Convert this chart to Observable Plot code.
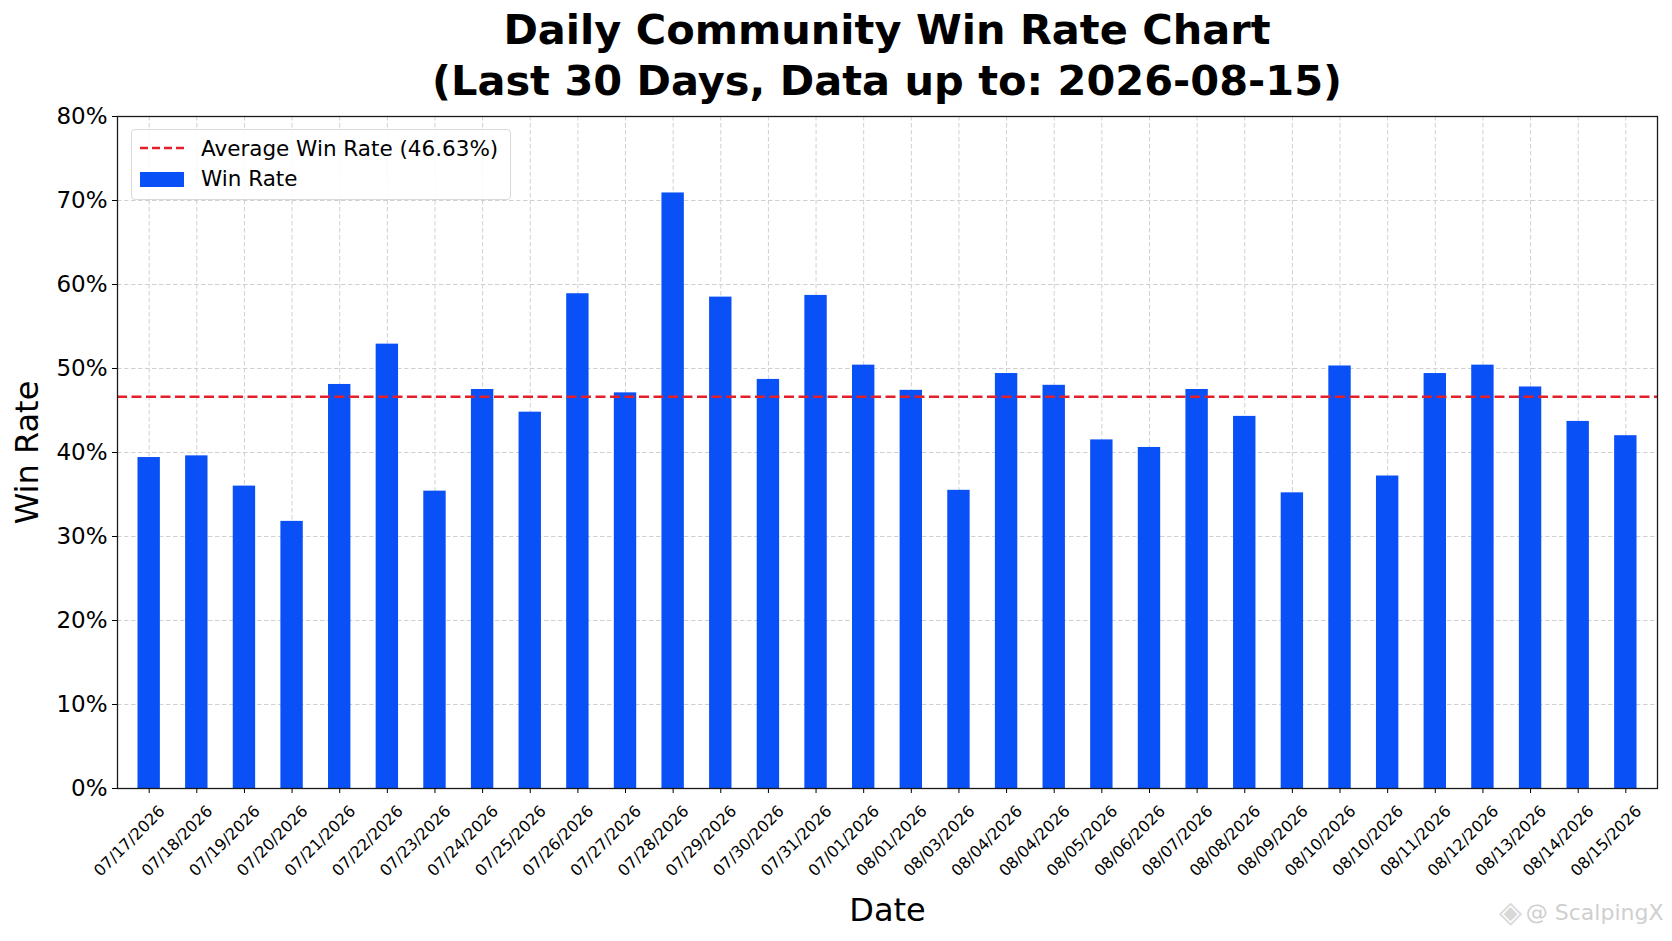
<!DOCTYPE html>
<html>
<head>
<meta charset="utf-8">
<script src="https://cdn.jsdelivr.net/npm/d3@7"></script>
<script src="https://cdn.jsdelivr.net/npm/@observablehq/plot@0.6"></script>
<style>
  html, body { margin: 0; padding: 0; background: #fff; }
  #wrap { position: relative; width: 1672px; height: 941px; overflow: hidden; font-family: "DejaVu Sans", sans-serif; }
  #title { position: absolute; left: 117px; width: 1540px; top: 4px; text-align: center;
           font-weight: bold; font-size: 41.5px; line-height: 51px; color: #000; }
  #legend { position: absolute; left: 131px; top: 129px; width: 378px; height: 69px;
            border: 1px solid #d9d9d9; border-radius: 4px; background: rgba(255,255,255,0.85);
            font-size: 21.5px; color: #000; }
  .sw { position: absolute; left: 8px; width: 44px; }
  .lbl { position: absolute; left: 69px; white-space: nowrap; }
</style>
</head>
<body>
<div id="wrap">
  <div id="chart"></div>
  <div id="title">Daily Community Win Rate Chart<br>(Last 30 Days, Data up to: 2026-08-15)</div>
  <div id="legend">
    <svg class="sw" style="top:14px" width="44" height="8"><line x1="0" y1="4" x2="44" y2="4" stroke="#e3202a" stroke-width="2.5" stroke-dasharray="8,4"/></svg>
    <div class="lbl" style="top:6px">Average Win Rate (46.63%)</div>
    <div class="sw" style="top:42px;height:15px;background:#0a50f7"></div>
    <div class="lbl" style="top:36px">Win Rate</div>
  </div>
</div>
<script>
const dates = [
  "07/17/2026","07/18/2026","07/19/2026","07/20/2026","07/21/2026","07/22/2026","07/23/2026","07/24/2026",
  "07/25/2026","07/26/2026","07/27/2026","07/28/2026","07/29/2026","07/30/2026","07/31/2026","07/01/2026",
  "08/01/2026","08/03/2026","08/04/2026","08/04/2026","08/05/2026","08/06/2026","08/07/2026","08/08/2026",
  "08/09/2026","08/10/2026","08/10/2026","08/11/2026","08/12/2026","08/13/2026","08/14/2026","08/15/2026"
];
const winRates = [
  39.4, 39.6, 36.0, 31.8, 48.1, 52.9, 35.4, 47.5,
  44.8, 58.9, 47.1, 70.9, 58.5, 48.7, 58.7, 50.4,
  47.4, 35.5, 49.4, 48.0, 41.5, 40.6, 47.5, 44.3,
  35.2, 50.3, 37.2, 49.4, 50.4, 47.8, 43.7, 42.0
];
const avgWinRate = [46.63];
const yTicks = [0, 10, 20, 30, 40, 50, 60, 70, 80];
const barHalfWidth = 0.235; // in category units

const idx = dates.map((d, i) => i);
const rows = idx.map(i => ({i, date: dates[i], rate: winRates[i]}));

const chart = Plot.plot({
  width: 1672,
  height: 941,
  marginLeft: 117,
  marginRight: 15,
  marginTop: 116,
  marginBottom: 153,
  style: {fontFamily: "DejaVu Sans, sans-serif", background: "transparent", color: "#000"},
  x: {type: "linear", domain: [-0.665, dates.length - 1 + 0.665]},
  y: {domain: [0, 80]},
  marks: [
    Plot.ruleY(yTicks, {stroke: "#d0d0d0", strokeWidth: 1, strokeDasharray: "4.5,2.5"}),
    Plot.ruleX(idx, {stroke: "#d0d0d0", strokeWidth: 1, strokeDasharray: "4.5,2.5"}),
    Plot.rectY(rows, {x1: d => d.i - barHalfWidth, x2: d => d.i + barHalfWidth, y: "rate", fill: "#0a50f7"}),
    Plot.ruleY(avgWinRate, {stroke: "#e3202a", strokeWidth: 2.5, strokeDasharray: "10,4.5"}),
    Plot.frame({stroke: "#1a1a1a", strokeWidth: 1.3}),
    Plot.axisY({ticks: yTicks, tickFormat: d => d + "%", fontSize: 23, tickSize: 5, tickPadding: 5, label: null}),
    Plot.axisX({ticks: idx, tickFormat: () => "", tickSize: 5, label: null}),
    Plot.axisX({ticks: idx, tickFormat: i => dates[i], tickRotate: -45, fontSize: 16, tickSize: 0, tickPadding: 12, dx: 13, dy: 8, label: null}),
    Plot.text(["Win Rate"], {frameAnchor: "left", dx: -90, rotate: -90, textAnchor: "middle", lineAnchor: "middle", fontSize: 32, fill: "#000"}),
    Plot.text(["Date"], {frameAnchor: "bottom", dy: 122, textAnchor: "middle", lineAnchor: "middle", fontSize: 32, fill: "#000"}),
    Plot.text(["@ ScalpingX"], {frameAnchor: "bottom-right", dx: 6, dy: 124, textAnchor: "end", lineAnchor: "middle", fontSize: 22, fill: "#cfcfcf"}),
    Plot.text(["◈"], {frameAnchor: "bottom-right", dx: -147, dy: 124, textAnchor: "middle", lineAnchor: "middle", fontSize: 30, fill: "#d8d8d8"})
  ]
});
document.getElementById("chart").appendChild(chart);
</script>
</body>
</html>
